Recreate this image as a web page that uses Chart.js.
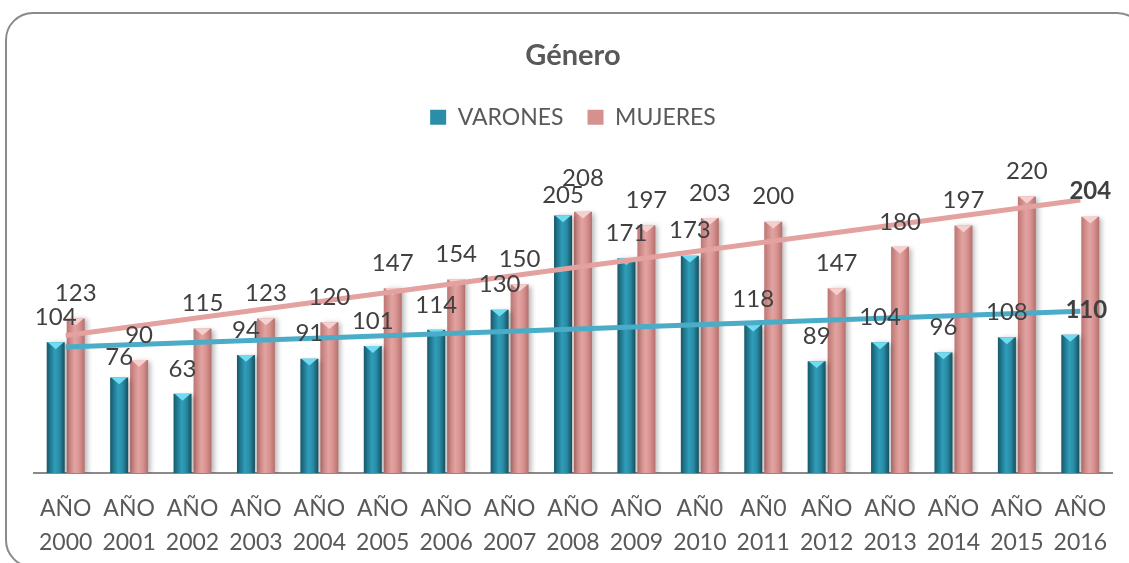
<!DOCTYPE html>
<html>
<head>
<meta charset="utf-8">
<script src="https://cdn.jsdelivr.net/npm/chart.js@4.4.1/dist/chart.umd.min.js"></script>
<style>
  html, body { margin: 0; padding: 0; background: #ffffff; overflow: hidden; }
  #wrap { position: relative; width: 1129px; height: 563px; overflow: hidden; }
  #frame { position: absolute; left: 5px; top: 12px; width: 1140px; height: 556px;
           border: 2px solid #8a8a8a; border-radius: 28px; box-sizing: border-box; }
  canvas { position: absolute; left: 0; top: 0; }
</style>
</head>
<body>
<div id="wrap">
  <div id="frame"></div>
  <canvas id="c" width="1129" height="563"></canvas>
</div>
<script>
// ---- data ----
const categories = [
  ['AÑO', '2000'], ['AÑO', '2001'], ['AÑO', '2002'], ['AÑO', '2003'], ['AÑO', '2004'],
  ['AÑO', '2005'], ['AÑO', '2006'], ['AÑO', '2007'], ['AÑO', '2008'], ['AÑO', '2009'],
  ['AÑ0', '2010'], ['AÑ0', '2011'], ['AÑO', '2012'], ['AÑO', '2013'], ['AÑO', '2014'],
  ['AÑO', '2015'], ['AÑO', '2016']
];
const varones = [104, 76, 63, 94, 91, 101, 114, 130, 205, 171, 173, 118, 89, 104, 96, 108, 110];
const mujeres = [123, 90, 115, 123, 120, 147, 154, 150, 208, 197, 203, 200, 147, 180, 197, 220, 204];
// trend line end values (first and last category)
const trendVarones = [100.3, 128.7];
const trendMujeres = [109.5, 217.3];
const seriesNames = ['VARONES', 'MUJERES'];
const legendColors = ['#2b8ea9', '#d6908e'];

// ---- helpers ----
const CAT_PCT = 0.63, BAR_PCT = 0.9;
function endsOnly(pair) {
  const a = categories.map(() => null);
  a[0] = pair[0];
  a[a.length - 1] = pair[1];
  return a;
}
function makeGrad(stops, fallback) {
  return function (ctx) {
    if (ctx.type !== 'data') return fallback;
    const chart = ctx.chart;
    const xs = chart.scales && chart.scales.x;
    if (!xs || !isFinite(xs.width) || xs.width <= 0) return fallback;
    const catW = xs.width / categories.length;
    const slot = catW * CAT_PCT / 2;
    const bw = slot * BAR_PCT;
    const c = xs.getPixelForValue(ctx.dataIndex) + (ctx.datasetIndex === 0 ? -slot / 2 : slot / 2);
    const g = chart.ctx.createLinearGradient(c - bw / 2, 0, c + bw / 2, 0);
    g.addColorStop(0, stops[0]);
    g.addColorStop(0.45, stops[1]);
    g.addColorStop(0.7, stops[2]);
    g.addColorStop(1, stops[3]);
    return g;
  };
}

const shadowPlugin = {
  id: 'barShadow',
  beforeDatasetDraw(chart, args) {
    if (args.meta.type !== 'bar') return;
    const ctx = chart.ctx;
    ctx.save();
    ctx.shadowColor = 'rgba(0,0,0,0.28)';
    ctx.shadowOffsetX = 3;
    ctx.shadowOffsetY = 1;
    ctx.shadowBlur = 5;
  },
  afterDatasetDraw(chart, args) {
    if (args.meta.type !== 'bar') return;
    const ctx = chart.ctx;
    ctx.restore();
    const capColor = args.index === 0 ? '#6fdcf2' : '#f6d0cf';
    ctx.save();
    ctx.fillStyle = capColor;
    args.meta.data.forEach(el => {
      const w = el.width;
      ctx.beginPath();
      ctx.moveTo(el.x - w / 2 + 1, el.y);
      ctx.lineTo(el.x + w / 2 - 1, el.y);
      ctx.lineTo(el.x, el.y + w * 0.38);
      ctx.closePath();
      ctx.fill();
    });
    ctx.restore();
  }
};

const labelPlugin = {
  id: 'valueLabels',
  afterDatasetsDraw(chart) {
    const ctx = chart.ctx;
    ctx.save();
    ctx.textAlign = 'center';
    ctx.textBaseline = 'middle';
    ctx.fillStyle = '#404040';
    const m0 = chart.getDatasetMeta(0), m1 = chart.getDatasetMeta(1);
    const v0 = chart.data.datasets[0].data, v1 = chart.data.datasets[1].data;
    const n = v0.length;
    for (let i = 0; i < n; i++) {
      const e0 = m0.data[i], e1 = m1.data[i];
      let y0 = e0.y - 25, y1 = e1.y - 25;
      // simple collision avoidance between the pair of labels
      if (Math.abs(y1 - y0) < 18) { y0 += 5; y1 = Math.min(y1, y0 - 17); }
      const last = i === n - 1;
      ctx.font = (last ? 'bold ' : '') + '24px Lato';
      ctx.fillText(String(v0[i]), e0.x + (last ? 16 : 0), y0);
      ctx.fillText(String(v1[i]), e1.x, y1);
    }
    ctx.restore();
  }
};

new Chart(document.getElementById('c'), {
  data: {
    labels: categories,
    datasets: [
      { type: 'bar', label: seriesNames[0], data: varones, order: 1,
        backgroundColor: makeGrad(['#17586a', '#2f9ebb', '#2a8ba5', '#164f5e'], legendColors[0]),
        categoryPercentage: CAT_PCT, barPercentage: BAR_PCT },
      { type: 'bar', label: seriesNames[1], data: mujeres, order: 1,
        backgroundColor: makeGrad(['#bd7674', '#e2a3a1', '#d89391', '#b56f6d'], legendColors[1]),
        categoryPercentage: CAT_PCT, barPercentage: BAR_PCT },
      { type: 'line', label: 'trend varones', data: endsOnly(trendVarones), order: 0,
        borderColor: '#4aacc6', borderWidth: 5, pointRadius: 0, spanGaps: true, fill: false },
      { type: 'line', label: 'trend mujeres', data: endsOnly(trendMujeres), order: 0,
        borderColor: '#e3a19f', borderWidth: 5, pointRadius: 0, spanGaps: true, fill: false }
    ]
  },
  options: {
    responsive: false,
    animation: false,
    layout: { padding: { left: 34, right: 17, top: 0, bottom: -15 } },
    plugins: {
      tooltip: { enabled: false },
      title: {
        display: true, text: 'Género', color: '#595959',
        font: { family: 'Lato', size: 29, weight: 'bold' },
        padding: { top: 38, bottom: 9 }
      },
      legend: {
        labels: {
          generateLabels: (chart) => seriesNames.map((name, i) => ({
            text: name, datasetIndex: i, fillStyle: legendColors[i],
            strokeStyle: legendColors[i], lineWidth: 0, hidden: false, fontColor: '#595959'
          })),
          boxWidth: 16, boxHeight: 15, padding: 24,
          color: '#595959', font: { family: 'Lato', size: 23 }
        }
      }
    },
    scales: {
      x: {
        grid: { display: false, drawTicks: false },
        border: { display: true, color: '#8a8a8a', width: 2 },
        ticks: { color: '#595959', font: { family: 'Lato', size: 23, lineHeight: 1.5 },
                 padding: 18, maxRotation: 0, autoSkip: false }
      },
      y: { display: false, min: 0, max: 266 }
    }
  },
  plugins: [shadowPlugin, labelPlugin]
});
</script>
</body>
</html>
